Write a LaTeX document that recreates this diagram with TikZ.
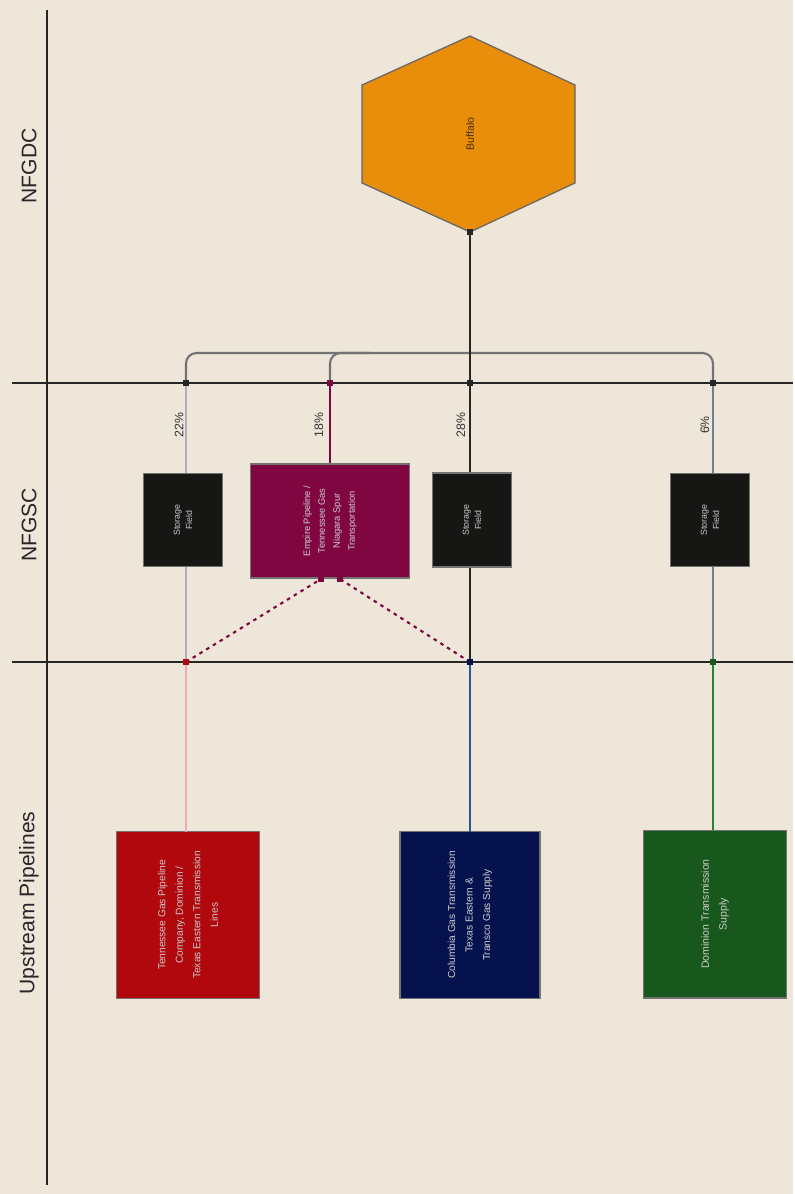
\documentclass[tikz,border=0pt]{standalone}
\usepackage{fontspec}
\setsansfont{Liberation Sans}
\usetikzlibrary{calc}

\definecolor{paper}{RGB}{237,230,217}
\definecolor{hubfill}{RGB}{233,142,10}
\definecolor{redfill}{RGB}{176,8,12}
\definecolor{navyfill}{RGB}{6,18,78}
\definecolor{greenfill}{RGB}{24,88,28}
\definecolor{plumfill}{RGB}{128,6,66}
\definecolor{darkfill}{RGB}{22,22,20}
\definecolor{pinkline}{RGB}{236,170,182}
\definecolor{greyline}{RGB}{172,176,190}
\definecolor{slateline}{RGB}{110,128,148}
\definecolor{blueline}{RGB}{44,84,150}
\definecolor{greenline}{RGB}{40,130,50}

\tikzset{
  lane/.style={line width=1.5pt, color=black!85},
  lanetext/.style={rotate=90, font=\sffamily\fontsize{12}{14}\selectfont, text=black!85},
  box/.style={rectangle, rotate=90, draw=black!55, line width=0.6pt, inner sep=2pt,
    outer sep=0pt, align=center, text=white!80!black},
  flow/.style={line width=1.2pt},
  junc/.style={rectangle, inner sep=0pt, minimum size=0.12cm},
  share/.style={rotate=90, font=\sffamily\fontsize{7}{8}\selectfont, text=black!80}
}

\begin{document}
\begin{tikzpicture}[x=0.02cm, y=-0.02cm]
  %%%%% START %%%%%
  \fill[paper] (0,0) rectangle (793,1194);

  % lanes
  \draw[lane] (47,10) -- (47,1185);
  \draw[lane] (12,383) -- (793,383);
  \draw[lane] (12,662) -- (793,662);

  \node[lanetext] (gdc) at (29,166) {NFGDC};
  \node[lanetext] (gsc) at (29,525) {NFGSC};
  \node[lanetext] (ups) at (29,903) {Upstream Pipelines};

  % junctions
  \coordinate (jA1) at (186,383);
  \coordinate (jB1) at (330,383);
  \coordinate (jC1) at (470,383);
  \coordinate (jD1) at (713,383);
  \coordinate (jA2) at (186,662);
  \coordinate (jC2) at (470,662);
  \coordinate (jD2) at (713,662);
  \coordinate (mgL) at (321,579);
  \coordinate (mgR) at (340,579);
  \coordinate (hubS) at (470,232);

  % city gate
  \draw[fill=hubfill, draw=black!60, line width=0.7pt]
    (470,36) -- (575,85) -- (575,183) -- (470,232) -- (362,183) -- (362,85) -- cycle;
  \node[rotate=90, font=\sffamily\fontsize{6}{7}\selectfont, text=black!70!hubfill] (hub) at (470,134) {Buffalo};

  % connectors
  \draw[flow, color=black!55, rounded corners=6] (jA1) -- ++(0,-30) -| (jD1);
  \draw[flow, color=black!55, rounded corners=6] (jB1) -- ++(0,-30) -- ++(40,0);
  \draw[flow, color=black!85] (hubS) -- (jC2);
  \draw[flow, color=greyline] (jA1) -- (jA2);
  \draw[flow, color=slateline] (jD1) -- (jD2);
  \draw[flow, color=plumfill] (jB1) -- (jB1 |- 0,470);
  \draw[flow, color=plumfill, dash pattern=on 2pt off 2.5pt] (jA2) -- (mgL);
  \draw[flow, color=plumfill, dash pattern=on 2pt off 2.5pt] (jC2) -- (mgR);

  % pipelines
  \node[box, fill=redfill, minimum width=3.34cm, minimum height=2.86cm,
    font=\sffamily\fontsize{5.8}{10}\selectfont] (tgp) at (188,915)
    {Tennessee Gas Pipeline\\Company, Dominion /\\Texas Eastern Transmission\\Lines};
  \node[box, fill=navyfill, minimum width=3.34cm, minimum height=2.8cm,
    font=\sffamily\fontsize{5.8}{10}\selectfont] (cgt) at (470,915)
    {Columbia Gas Transmission\\Texas Eastern \&\\Transco Gas Supply};
  \node[box, fill=greenfill, minimum width=3.36cm, minimum height=2.86cm,
    font=\sffamily\fontsize{6}{10}\selectfont] (dtc) at (715,914)
    {Dominion Transmission\\Supply};

  \draw[flow, color=pinkline] (jA2) -- (jA2 |- tgp.east);
  \draw[flow, color=blueline] (jC2) -- (cgt.east);
  \draw[flow, color=greenline] (jD2) -- (jD2 |- dtc.east);

  % supply corp
  \node[box, fill=darkfill, minimum width=1.86cm, minimum height=1.58cm,
    font=\sffamily\fontsize{5}{7}\selectfont] (stA) at (183,520) {Storage\\Field};
  \node[box, fill=darkfill, minimum width=1.88cm, minimum height=1.58cm,
    font=\sffamily\fontsize{5}{7}\selectfont] (stC) at (472,520) {Storage\\Field};
  \node[box, fill=darkfill, minimum width=1.86cm, minimum height=1.58cm,
    font=\sffamily\fontsize{5}{7}\selectfont] (stD) at (710,520) {Storage\\Field};
  \node[box, fill=plumfill, minimum width=2.28cm, minimum height=3.18cm,
    font=\sffamily\fontsize{5.3}{8.5}\selectfont] (emp) at (330,521)
    {Empire Pipeline /\\Tennessee Gas\\Niagara Spur\\Transportation};

  \node[share] (shA) at (179,425) {22\%};
  \node[share] (shB) at (319,425) {18\%};
  \node[share] (shC) at (461,425) {28\%};
  \node[share] (shD) at (705,425) {6\%};

  % markers
  \node[junc, fill=black!85] at (jA1) {};
  \node[junc, fill=plumfill] at (jB1) {};
  \node[junc, fill=black!85] at (jC1) {};
  \node[junc, fill=black!85] at (jD1) {};
  \node[junc, fill=black!85] at (hubS) {};
  \node[junc, fill=redfill] at (jA2) {};
  \node[junc, fill=navyfill] at (jC2) {};
  \node[junc, fill=greenfill] at (jD2) {};
  \node[junc, fill=plumfill] at (mgL) {};
  \node[junc, fill=plumfill] at (mgR) {};

  %%%%% END %%%%%
\end{tikzpicture}
\end{document}
